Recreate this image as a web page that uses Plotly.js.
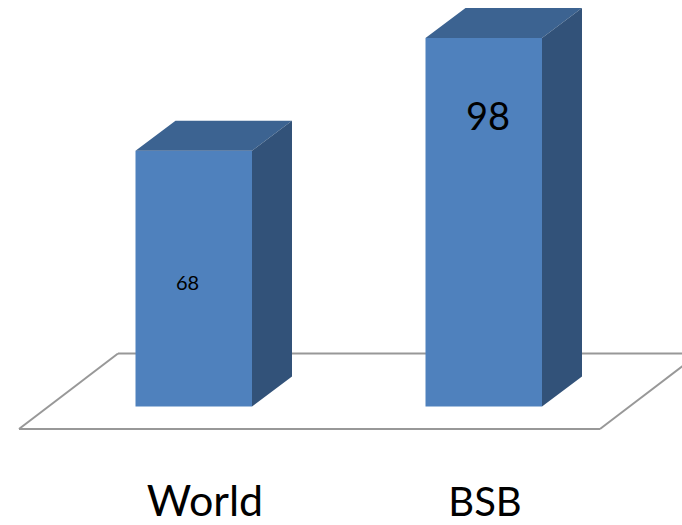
<!DOCTYPE html>
<html><head><meta charset="utf-8">
<script src="https://cdn.plot.ly/plotly-3.0.1.min.js"></script>
<style>html,body{margin:0;padding:0;background:#fff}</style></head>
<body><div id="chart" style="width:682px;height:525px"></div>
<script>
const categories = ["World", "BSB"];
const values = [68, 98];
const labelSizes = [20, 38];
const categorySizes = [43, 40];
const pxX = 290, pxY = 3.76;           // pixels per x category / per value unit
const W = 682, H = 525, MB = 50;
const x0px = 193.75, basePx = 406.5;
const xRange = [-x0px / pxX, (W - x0px) / pxX];
const yRange = [-(H - MB - basePx) / pxY, basePx / pxY];
const barW = 116.5 / pxX, dx = 40 / pxX, dy = 30 / pxY;
const positions = categories.map((_, i) => i);

const topX = [], topY = [], sideX = [], sideY = [];
positions.forEach((p, i) => {
  const l = p - barW / 2, r = p + barW / 2, v = values[i];
  topX.push(l, l + dx, r + dx, r, l, null);
  topY.push(v, v + dy, v + dy, v, v, null);
  sideX.push(r, r + dx, r + dx, r, r, null);
  sideY.push(v, v + dy, dy, 0, v, null);
});
const traces = [
  {type: "bar", x: positions, y: values, width: barW, marker: {color: "#4f81bd", line: {width: 0}}, hoverinfo: "skip"},
  {type: "scatter", mode: "lines", x: topX, y: topY, fill: "toself", fillcolor: "#3c6391", line: {width: 0, color: "#3c6391"}, hoverinfo: "skip"},
  {type: "scatter", mode: "lines", x: sideX, y: sideY, fill: "toself", fillcolor: "#325279", line: {width: 0, color: "#325279"}, hoverinfo: "skip"}
];
const fx = px => (px - x0px) / pxX, fy = py => (basePx - py) / pxY;
const floorPts = [[699, 353.5], [118, 353.5], [19, 429], [600, 429], [699, 353.5]];
const shapes = floorPts.slice(1).map((p, i) => ({
  type: "line", layer: "below",
  x0: fx(floorPts[i][0]), y0: fy(floorPts[i][1]), x1: fx(p[0]), y1: fy(p[1]),
  line: {color: "#989898", width: 2}
}));
const annotations = [
  {x: positions[0], y: fy(282), xshift: -6, text: String(values[0]), showarrow: false, font: {family: "Lato, Carlito, sans-serif", size: labelSizes[0], color: "#000"}},
  {x: positions[1], y: fy(115), xshift: 4, text: String(values[1]), showarrow: false, font: {family: "Lato, Carlito, sans-serif", size: labelSizes[1], color: "#000"}}
];
const layout = {
  width: W, height: H, showlegend: false, paper_bgcolor: "#fff", plot_bgcolor: "#fff",
  margin: {l: 0, r: 0, t: 0, b: MB, pad: 0}, barmode: "overlay",
  xaxis: {range: xRange, tickvals: [fx(205), fx(485)],
    ticktext: categories.map((c, i) => `<span style="font-size:${categorySizes[i]}px">${c}</span>`),
    showgrid: false, zeroline: false, showline: false, ticks: "", ticklabelstandoff: 0,
    tickfont: {family: "Lato, Carlito, sans-serif", size: 40, color: "#000"}, fixedrange: true},
  yaxis: {range: yRange, showgrid: false, zeroline: false, showline: false, showticklabels: false, ticks: "", fixedrange: true},
  shapes, annotations
};
Plotly.newPlot("chart", traces, layout, {displayModeBar: false, staticPlot: true});
</script></body></html>
